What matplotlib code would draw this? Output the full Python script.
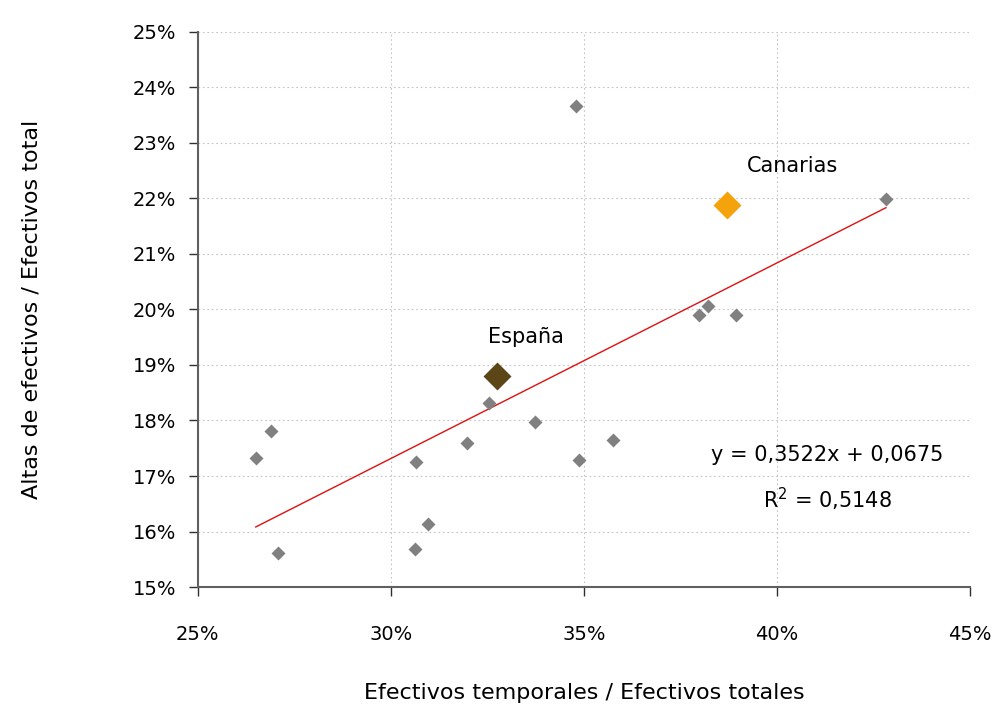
import matplotlib.pyplot as plt
from matplotlib.ticker import FuncFormatter

# comunidades (x = temporales / totales, y = altas / total), en %
x_ccaa = [26.50, 26.89, 27.08, 30.62, 30.66, 30.97, 31.97, 32.55, 33.73,
          34.79, 34.86, 35.74, 37.99, 38.22, 38.93, 42.82]
y_ccaa = [17.32, 17.81, 15.61, 15.69, 17.25, 16.14, 17.59, 18.31, 17.97,
          23.67, 17.29, 17.64, 19.90, 20.06, 19.90, 21.99]

espana = (32.74, 18.80)
canarias = (38.70, 21.88)

slope = 0.3522
intercept = 0.0675

fig = plt.figure(figsize=(9.94, 7.04), dpi=100)
ax = fig.add_axes([0.199, 0.166, 0.777, 0.789])

# linea de tendencia entre el min y max de x
x0, x1 = min(x_ccaa) / 100, max(x_ccaa) / 100
ax.plot([x0 * 100, x1 * 100],
        [(slope * x0 + intercept) * 100, (slope * x1 + intercept) * 100],
        color="#e01010", lw=1, zorder=2)

ax.plot(x_ccaa, y_ccaa, "D", color="#808080", ms=7.6, mec="none", zorder=3)
ax.plot(*espana, "D", color="#5c4516", ms=14.5, mec="none", zorder=4)
ax.plot(*canarias, "D", color="#f5a30c", ms=14.5, mec="none", zorder=4)

ax.annotate("España", xy=espana, xytext=(21, 28), textcoords="offset points",
            ha="center", va="center", fontsize=15)
ax.annotate("Canarias", xy=canarias, xytext=(47, 28), textcoords="offset points",
            ha="center", va="center", fontsize=15)

ax.text(0.815, 0.237, "y = 0,3522x + 0,0675", transform=ax.transAxes,
        ha="center", va="center", fontsize=15)
ax.text(0.815, 0.158, "R$^2$ = 0,5148", transform=ax.transAxes,
        ha="center", va="center", fontsize=15)

ax.set_xlim(25, 45)
ax.set_ylim(15, 25)
ax.set_xticks(range(25, 46, 5))
ax.set_yticks(range(15, 26))
pct = FuncFormatter(lambda v, p: f"{v:.0f}%")
ax.xaxis.set_major_formatter(pct)
ax.yaxis.set_major_formatter(pct)
ax.tick_params(direction="out", length=6.5, width=1, labelsize=14, color="#303030")
ax.tick_params(axis="y", pad=9)
ax.tick_params(axis="x", pad=21)

ax.grid(True, color="#c4c4c4", ls=(0, (1.5, 2.5)), lw=0.8)
ax.set_axisbelow(True)
for s in ["top", "right"]:
    ax.spines[s].set_visible(False)
for s in ["left", "bottom"]:
    ax.spines[s].set_color("#606060")
    ax.spines[s].set_linewidth(1.5)

ax.set_xlabel("Efectivos temporales / Efectivos totales", fontsize=16, labelpad=28)
ax.set_ylabel("Altas de efectivos / Efectivos total", fontsize=16, labelpad=66)

fig.savefig("out.png", dpi=100)
